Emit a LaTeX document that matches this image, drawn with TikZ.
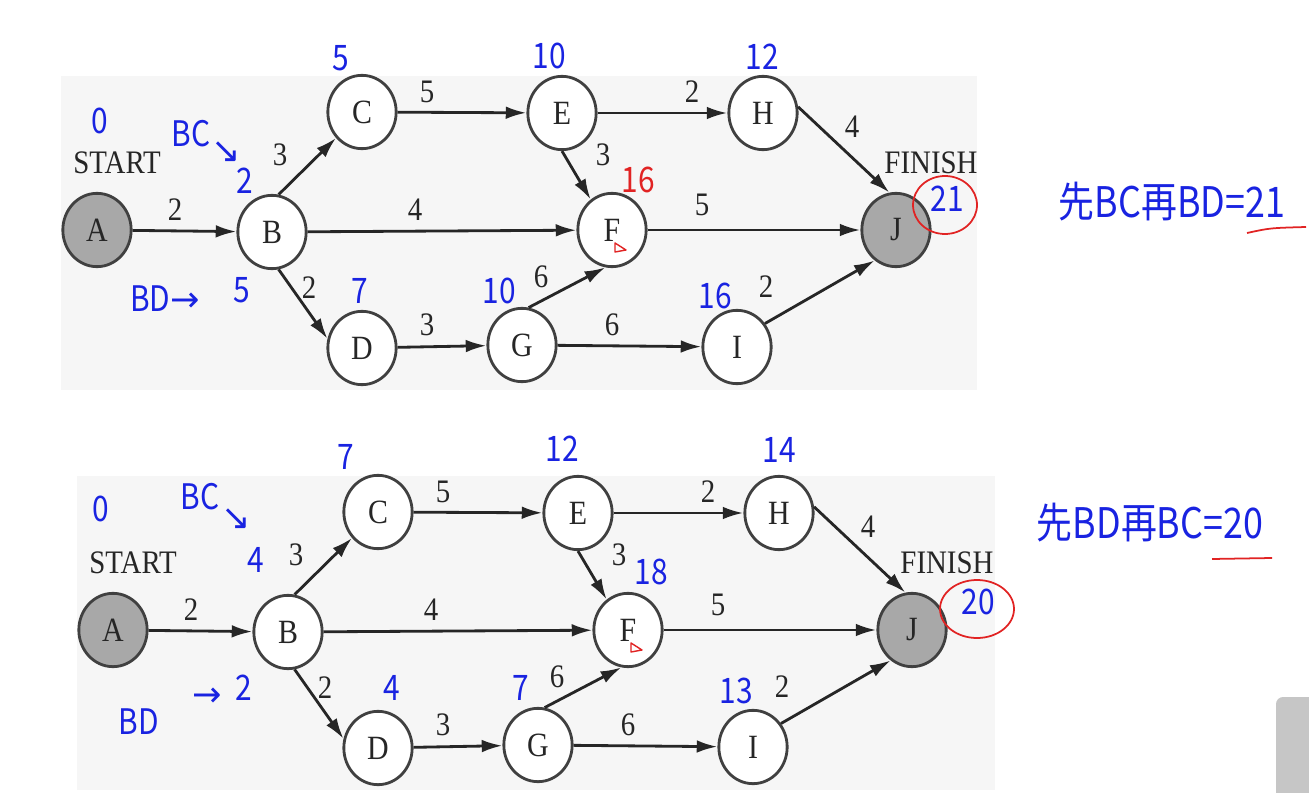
\documentclass[tikz,border=0pt]{standalone}
\usepackage{fontspec}
\setmainfont{Liberation Serif}[FakeStretch=0.88]
\newfontfamily\handfont{Noto Sans CJK SC}[FakeStretch=0.85]
\newfontfamily\arrowfont{DejaVu Sans}
\usetikzlibrary{shapes.geometric,arrows.meta,positioning}
\definecolor{penblue} {RGB}{25,35,225}
\definecolor{penred}  {RGB}{225,35,35}
\definecolor{nodegray}{RGB}{168,168,168}
\definecolor{panelgray}{RGB}{246,246,246}

\begin{document}
\begin{tikzpicture}[
  x=0.03cm, y=-0.03cm,
  task/.style={draw=black!75, line width=2.4pt, ellipse, fill=white,
    minimum width=2.05cm, minimum height=2.2cm, inner sep=0pt,
    font=\fontsize{29}{31}\selectfont, text=black!85},
  endtask/.style={task, fill=nodegray},
  edge/.style={-{Latex[length=0.62cm,width=0.38cm]}, line width=2.4pt, draw=black!85},
  wt/.style={font=\fontsize{28}{30}\selectfont, text=black!85},
  note/.style={text=penblue, font=\handfont\fontsize{30}{32}\selectfont},
  rnote/.style={note, text=penred},
  ring/.style={draw=penred, line width=1.5pt},
]
\useasboundingbox (0,0) rectangle (1309,793);

% Panels
\fill[panelgray] (61,76) rectangle (977,390);
\fill[panelgray] (77,476) rectangle (995,790);

%-- the same network twice: top (t) and bottom (b, shifted)
\foreach \p/\dx/\dy in {t/0/0, b/16/400}{
\begin{scope}[shift={(\dx,\dy)}]
  \node[endtask] (\p A) at (97,230)  {A};
  \node[task]    (\p B) at (272,232) {B};
  \node[task]    (\p C) at (362,112) {C};
  \node[task]    (\p E) at (562,113) {E};
  \node[task]    (\p H) at (763,113) {H};
  \node[task]    (\p F) at (612,230) {F};
  \node[endtask] (\p J) at (896,230) {J};
  \node[task]    (\p D) at (362,348) {D};
  \node[task]    (\p G) at (522,345) {G};
  \node[task]    (\p I) at (737,347) {I};

  \node[wt] (\p start)  at (117,163) {START};
  \node[wt] (\p finish) at (931,163) {FINISH};

  \foreach \s/\e in {A/B, B.80/C.-135, B/F, B.-80/D.165, C/E, E/H, E.-90/F.125,
      F/J, H.10/J.100, D/G, G.80/F.-100, G/I, I.40/J.-125}
    \draw[edge] (\p\s) -- (\p\e);

  % durations
  \foreach \s/\e/\w/\lx/\ly in {A/B/2/175/210, B/C/3/280/155, B/F/4/415/210,
      B/D/2/309/288, C/E/5/427/92, E/H/2/692/92, E/F/3/603/155, F/J/5/702/205,
      H/J/4/852/127, D/G/3/427/325, G/F/6/541/277, G/I/6/612/325, I/J/2/766/287}
    \node[wt] (\p w\s\e) at (\lx,\ly) {\w};

  % red mark inside F
  \draw[penred, line width=1.2pt, line join=round]
    (615,243) -- (615,252) -- (626,250) -- cycle;
\end{scope}
}

%-- notes on the top network (BC first)
\node[note] (n0)  at (100,121) {0};
\node[note] (nbc) at (191,134) {BC};
\node[note] (nar) at (226,152) {\arrowfont ↘};
\node[note] (nb)  at (245,181) {2};
\node[note] (nc)  at (341,58)  {5};
\node[note] (ne)  at (549,56)  {10};
\node[note] (nh)  at (762,57)  {12};
\node[rnote] (nf) at (638,180) {16};
\node[note] (nbd) at (165,299) {BD{\arrowfont →}};
\node[note] (nb2) at (242,290) {5};
\node[note] (nd)  at (360,291) {7};
\node[note] (ng)  at (499,291) {10};
\node[note] (ni)  at (715,296) {16};
\node[note] (nj)  at (947,199) {21};
\draw[ring] (945,205) ellipse [x radius=32, y radius=29];
\node[note, font=\handfont\fontsize{36}{38}\selectfont] (ntot) at (1172,202) {先BC再BD=21};
\draw[penred, line width=1.5pt] (1247,233) .. controls (1270,228) .. (1306,227);

%-- notes on the bottom network (BD first)
\node[note] (m0)  at (101,509) {0};
\node[note] (mbc) at (200,497) {BC};
\node[note] (mar) at (236,519) {\arrowfont ↘};
\node[note] (mb)  at (256,560) {4};
\node[note] (mc)  at (346,457) {7};
\node[note] (me)  at (562,449) {12};
\node[note] (mh)  at (779,450) {14};
\node[note] (mf)  at (651,572) {18};
\node[note] (mbd) at (139,722) {BD};
\node[note] (mba) at (207,697) {\arrowfont →};
\node[note] (mb2) at (244,688) {2};
\node[note] (md)  at (392,688) {4};
\node[note] (mg)  at (521,688) {7};
\node[note] (mi)  at (736,691) {13};
\node[note] (mj)  at (978,602) {20};
\draw[ring] (977,609) ellipse [x radius=37, y radius=29];
\node[note, font=\handfont\fontsize{36}{38}\selectfont] (mtot) at (1150,523) {先BD再BC=20};
\draw[penred, line width=1.5pt] (1212,559) -- (1272,558);

% corner thumbnail
\fill[gray!45, rounded corners=6] (1276,697) rectangle (1315,800);
\end{tikzpicture}
\end{document}
